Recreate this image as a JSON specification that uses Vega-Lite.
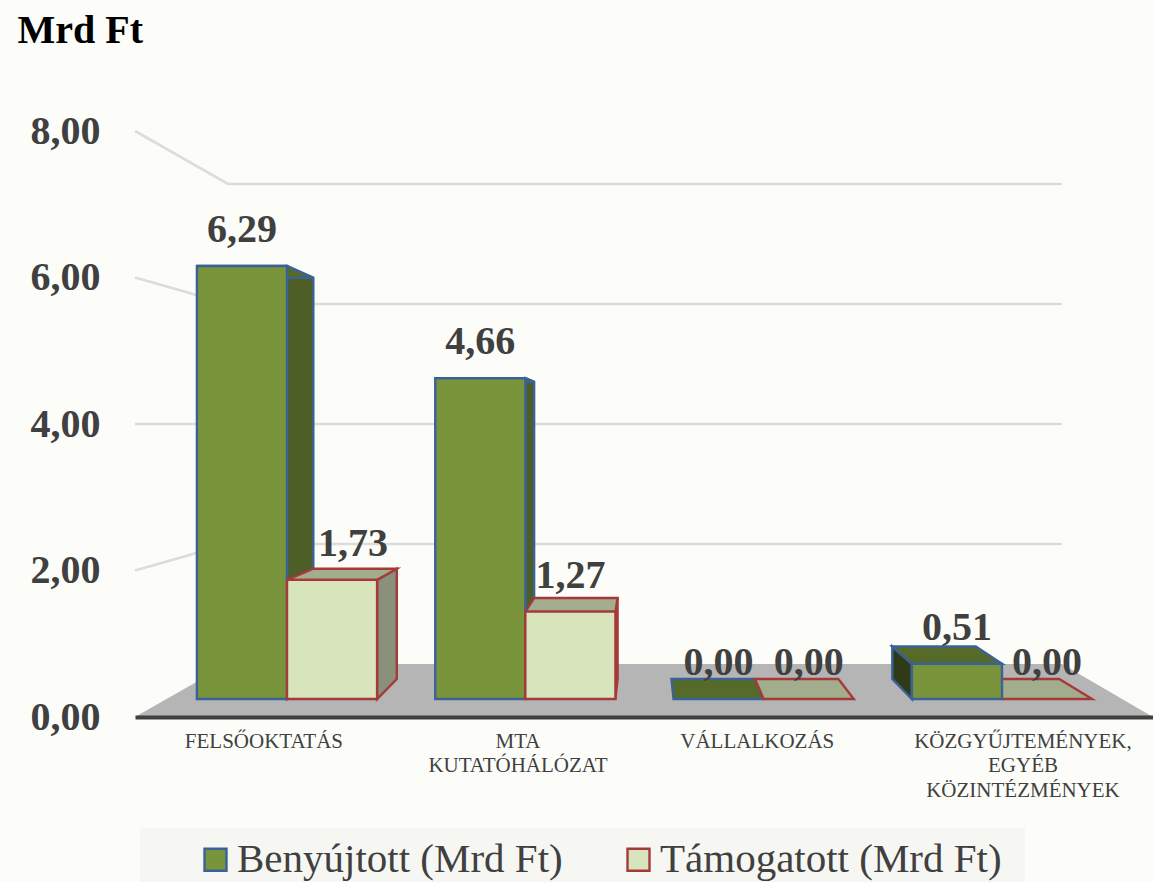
{
"$schema":"https://vega.github.io/schema/vega-lite/v6.json",
"width":1018,"height":586,"autosize":{"type":"none"},
"padding":{"left":135,"top":131,"right":0,"bottom":165},
"background":"#fcfdf8",
"config":{"view":{"stroke":null},"font":"Liberation Serif"},
"data":{"values":[
{"category":"FELSŐOKTATÁS","series":"Benyújtott (Mrd Ft)","value":6.29},
{"category":"FELSŐOKTATÁS","series":"Támogatott (Mrd Ft)","value":1.73},
{"category":"MTA KUTATÓHÁLÓZAT","series":"Benyújtott (Mrd Ft)","value":4.66},
{"category":"MTA KUTATÓHÁLÓZAT","series":"Támogatott (Mrd Ft)","value":1.27},
{"category":"VÁLLALKOZÁS","series":"Benyújtott (Mrd Ft)","value":0},
{"category":"VÁLLALKOZÁS","series":"Támogatott (Mrd Ft)","value":0},
{"category":"KÖZGYŰJTEMÉNYEK, EGYÉB KÖZINTÉZMÉNYEK","series":"Benyújtott (Mrd Ft)","value":0.51},
{"category":"KÖZGYŰJTEMÉNYEK, EGYÉB KÖZINTÉZMÉNYEK","series":"Támogatott (Mrd Ft)","value":0}
]},
"transform":[
{"calculate":"indexof(['FELSŐOKTATÁS','MTA KUTATÓHÁLÓZAT','VÁLLALKOZÁS','KÖZGYŰJTEMÉNYEK, EGYÉB KÖZINTÉZMÉNYEK'],datum.category)","as":"i"},
{"calculate":"datum.i+(datum.series=='Benyújtott (Mrd Ft)'?-0.378:0)","as":"xl"},
{"calculate":"datum.xl+0.378","as":"xr"},
{"calculate":"0.2457+0.9398*datum.value","as":"yf"},
{"calculate":"0.2457","as":"yz"},
{"calculate":"0.1104+0.9265*datum.xl","as":"bxl"},
{"calculate":"0.1104+0.9265*datum.xr","as":"bxr"},
{"calculate":"0.2907+0.9265*datum.yf","as":"by"},
{"calculate":"0.2907+0.9265*datum.yz","as":"byz"},
{"calculate":"datum.i>1?[datum.xl,datum.bxl]:[datum.xr,datum.bxr]","as":"sx"},
{"calculate":"[datum.yf,datum.by]","as":"sy"},
{"calculate":"[datum.yz,datum.byz]","as":"sy2"},
{"calculate":"[datum.xl,datum.bxl]","as":"tx"},
{"calculate":"[datum.xr,datum.bxr]","as":"tx2"}
],
"layer":[
{"data":{"values":[{"panel":"legend"}]},
 "mark":{"type":"rect","fill":"#f6f7f3","clip":false},
 "encoding":{
  "x":{"datum":-0.6168,"type":"quantitative","title":null,"scale":{"domain":[-0.6378,3.6336],"nice":false,"zero":false},
   "axis":{"labels":false,"ticks":false,"grid":false,"domain":true,"domainColor":"#404040","domainWidth":4,"title":null,"zindex":1}},
  "x2":{"datum":3.0965},
  "y":{"datum":-1.515,"type":"quantitative","title":"Mrd Ft","scale":{"domain":[0,8],"nice":false,"zero":false},
   "axis":{"values":[0,2,4,6,8],"labelExpr":"replace(format(datum.value,'.2f'),'.',',')","ticks":false,"grid":false,"domain":false,
    "labelFont":"Liberation Serif","labelFontSize":40,"labelFontWeight":"bold","labelColor":"#404040","labelPadding":35,
    "title":"Mrd Ft","titleX":-118,"titleY":-101,"titleAngle":0,"titleAlign":"left","titleBaseline":"middle","titleFont":"Liberation Serif","titleFontSize":40,"titleFontWeight":"bold","titleColor":"#000000"}},
  "y2":{"datum":-2.2526}}},
{"data":{"values":[{"tick":0}]},
 "transform":[
  {"calculate":"[0,0.7236]","as":"gy"},
  {"calculate":"[-0.6378,-0.2476]","as":"gx"},
  {"calculate":"[3.6336,3.2518]","as":"gx2"},
  {"flatten":["gy","gx","gx2"]}],
 "mark":{"type":"area","orient":"horizontal","fill":"#b5b5b5"},
 "encoding":{"y":{"field":"gy","type":"quantitative"},"x":{"field":"gx","type":"quantitative"},"x2":{"field":"gx2"}}},
{"data":{"values":[{"tick":2},{"tick":4},{"tick":6},{"tick":8}]},
 "transform":[
  {"calculate":"0.7236+0.8191*datum.tick","as":"b"},
  {"calculate":"[datum.tick,datum.b,datum.b]","as":"gy"},
  {"calculate":"[-0.6378,-0.2476,3.2518]","as":"gx"},
  {"flatten":["gy","gx"]}],
 "mark":{"type":"line","stroke":"#dcdcdc","strokeWidth":2.6},
 "encoding":{"x":{"field":"gx","type":"quantitative"},"y":{"field":"gy","type":"quantitative"},"detail":{"field":"tick"}}},
{"transform":[{"filter":"datum.series=='Benyújtott (Mrd Ft)' && datum.value>0"},{"flatten":["sx","sy","sy2"]}],
 "mark":{"type":"area","orient":"vertical","stroke":"#3a6298","strokeWidth":2.4},
 "encoding":{"x":{"field":"sx","type":"quantitative"},"y":{"field":"sy","type":"quantitative"},"y2":{"field":"sy2"},"detail":{"field":"category"},
  "fill":{"condition":{"test":"datum.i>1","value":"#2f3a17"},"value":"#4d5e26"}}},
{"transform":[{"filter":"datum.series=='Benyújtott (Mrd Ft)'"},{"flatten":["sy","tx","tx2"]}],
 "mark":{"type":"area","orient":"horizontal","fill":"#566a2a","stroke":"#3a6298","strokeWidth":2.4},
 "encoding":{"y":{"field":"sy","type":"quantitative"},"x":{"field":"tx","type":"quantitative"},"x2":{"field":"tx2"},"detail":{"field":"category"}}},
{"transform":[{"filter":"datum.series=='Támogatott (Mrd Ft)' && datum.value>0"},{"flatten":["sx","sy","sy2"]}],
 "mark":{"type":"area","orient":"vertical","fill":"#8a917a","stroke":"#a63a3a","strokeWidth":2.4},
 "encoding":{"x":{"field":"sx","type":"quantitative"},"y":{"field":"sy","type":"quantitative"},"y2":{"field":"sy2"},"detail":{"field":"category"}}},
{"transform":[{"filter":"datum.series=='Támogatott (Mrd Ft)'"},{"flatten":["sy","tx","tx2"]}],
 "mark":{"type":"area","orient":"horizontal","fill":"#a2ad8d","stroke":"#a63a3a","strokeWidth":2.4},
 "encoding":{"y":{"field":"sy","type":"quantitative"},"x":{"field":"tx","type":"quantitative"},"x2":{"field":"tx2"},"detail":{"field":"category"}}},
{"transform":[{"filter":"datum.value>0"}],
 "mark":{"type":"rect","strokeWidth":2.4},
 "encoding":{"x":{"field":"xl","type":"quantitative"},"x2":{"field":"xr"},"y":{"field":"yf","type":"quantitative"},"y2":{"field":"yz"},
  "fill":{"field":"series","type":"nominal","scale":{"domain":["Benyújtott (Mrd Ft)","Támogatott (Mrd Ft)"],"range":["#7a943c","#d8e4bc"]},
   "legend":{"title":null,"orient":"none","legendX":49,"legendY":697,"direction":"horizontal","padding":11,"symbolType":"square","symbolSize":484,"symbolStrokeWidth":2.4,"labelFont":"Liberation Serif","labelFontSize":41,"labelColor":"#404040","labelOffset":1,"columnPadding":55,"labelLimit":500,"symbolOpacity":1}},
  "stroke":{"field":"series","type":"nominal","scale":{"domain":["Benyújtott (Mrd Ft)","Támogatott (Mrd Ft)"],"range":["#3a6298","#a63a3a"]}}}},
{"transform":[{"calculate":"(datum.xl+datum.xr)/2+(datum.i==0&&datum.series=='Támogatott (Mrd Ft)'?0.088:0)","as":"lx"},{"calculate":"datum.yf+0.4915","as":"ly"},{"calculate":"replace(format(datum.value,'.2f'),'.',',')","as":"lab"}],
 "mark":{"type":"text","font":"Liberation Serif","fontSize":40,"fontWeight":"bold","color":"#404040","align":"center","baseline":"middle"},
 "encoding":{"x":{"field":"lx","type":"quantitative"},"y":{"field":"ly","type":"quantitative"},"text":{"field":"lab"}}},
{"transform":[{"filter":"datum.series=='Benyújtott (Mrd Ft)'"},{"calculate":"[-0.097,0.969,1.973,3.088][datum.i]","as":"cx"},{"calculate":"-0.19","as":"cy"}],
 "mark":{"type":"text","font":"Liberation Serif","fontSize":21,"color":"#404040","align":"center","baseline":"top","lineBreak":" ","lineHeight":24.5,"clip":false},
 "encoding":{"x":{"field":"cx","type":"quantitative"},"y":{"field":"cy","type":"quantitative"},"text":{"field":"category"}}}
]
}
